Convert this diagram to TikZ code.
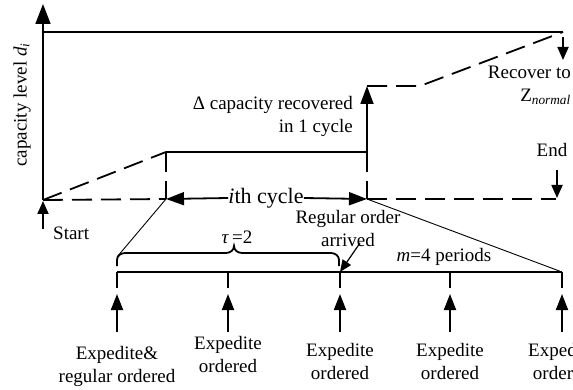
\documentclass[tikz,border=0pt]{standalone}
\usepackage{fontspec}
\setmainfont{Liberation Serif}
\usetikzlibrary{arrows.meta}
\begin{document}
\begin{tikzpicture}[x=1pt,y=-1pt,font=\fontsize{19}{23}\selectfont,
  thickline/.style={line width=1.8pt},
  thinline/.style={line width=0.9pt},
  dsh/.style={line width=1.8pt,dash pattern=on 20pt off 9pt},
  bigtip/.style={-{Triangle[length=18pt,width=13pt]}},
  midtip/.style={-{Triangle[length=16pt,width=12pt]}},
  smalltip/.style={-{Triangle[length=13pt,width=11pt]}},
  lbl/.style={inner sep=0pt,align=center}]
\useasboundingbox (0,0) rectangle (573,390);
% coordinates
\coordinate (O) at (43,200);
\coordinate (T) at (43,4);
\coordinate (TL) at (43,32);
\coordinate (TR) at (563,32);
\coordinate (A) at (166,152);
\coordinate (Ab) at (166,199);
\coordinate (B) at (367,152);
\coordinate (Bt) at (367,86);
\coordinate (Bb) at (367,199);
\coordinate (C) at (420,86);
\coordinate (E) at (556,199);
% axis
\draw[thickline,-{Triangle[length=20pt,width=15pt]}] (O) -- (T);
\draw[thickline] (TL) -- (TR);
\node[lbl,rotate=90] (ylab) at (22,105) {capacity level \textit{d\textsubscript{i}}};
% dashed paths
\draw[dsh] (O) -- (A);
\draw[dsh] (O) -- (Ab);
\draw[dsh] (A) -- (Ab);
\draw[thickline] (A) -- (B);
\draw[thickline,bigtip] (B) -- (Bt);
\draw[dsh] (B) -- (Bb);
\draw[dsh] (Bt) -- (C) -- (TR);
\draw[dsh] (Bb) -- (E);
% recover arrow and text
\coordinate (r1) at (563,37);
\coordinate (r2) at (563,60);
\draw[thickline,smalltip] (r1) -- (r2);
\node[lbl,anchor=east] (rec) at (571,72) {Recover to};
\node[lbl,anchor=east] (zn) at (571,97) {Z\textsubscript{\textit{normal}}};
% end
\node[lbl] (endl) at (552,150) {End};
\coordinate (e1) at (557,170);
\coordinate (e2) at (557,198);
\draw[thickline,smalltip] (e1) -- (e2);
% start
\coordinate (s1) at (43,229);
\coordinate (s2) at (43,201);
\draw[thickline,smalltip] (s1) -- (s2);
\node[lbl,anchor=west] (start) at (53,233) {Start};
% delta
\node[lbl,align=right,anchor=east] (delta) at (353,116) {Δ capacity recovered\\in 1 cycle};
% ith cycle
\node[inner sep=0pt,font=\fontsize{22}{26}\selectfont] (cyc) at (266,198) {\textit{i}th cycle};
\draw[thickline,bigtip] (cyc.west) -- (Ab);
\draw[thickline,bigtip] (cyc.east) -- (Bb);
% regular order arrived
\node[lbl] (reg) at (348,229) {Regular order\\arrived};
% timeline
\coordinate (t1) at (117,272);
\coordinate (t2) at (228,272);
\coordinate (t3) at (340,272);
\coordinate (t4) at (450,272);
\coordinate (t5) at (562,272);
\draw[thickline] (t1) -- (t5);
\foreach \i in {1,...,5}{
  \draw[thickline] (t\i) -- ++(0,16);
}
\coordinate (ra) at (360,243);
\draw[line width=1.2pt,-{Triangle[length=12pt,width=10pt]}] (ra) -- (t3);
% brace
\draw[thickline] (117,266) -- (117,260) to[out=90,in=180] (125,253) -- (226,253)
  to[out=0,in=-90] (234,246) to[out=-90,in=180] (242,253) -- (331,253)
  to[out=0,in=90] (339,260) -- (339,266);
\node[lbl] (tau) at (237,237) {\textit{τ}\,=2};
\coordinate (bl) at (117,257);
\draw[thinline] (Ab) -- (bl);
\draw[thinline] (Bb) -- (t5);
\node[lbl] (mper) at (444,257) {\textit{m}=4 periods};
% up arrows
\foreach \x in {117,228,340,450,562}{
  \draw[thickline,midtip] (\x,332) -- (\x,294);
}
\node[lbl] (l1) at (117,366) {Expedite\&\\regular ordered};
\node[lbl] (l2) at (228,354) {Expedite\\ordered};
\node[lbl] (l3) at (340,361) {Expedite\\ordered};
\node[lbl] (l4) at (450,361) {Expedite\\ordered};
\node[lbl] (l5) at (562,361) {Expedite\\ordered};
\end{tikzpicture}
\end{document}
